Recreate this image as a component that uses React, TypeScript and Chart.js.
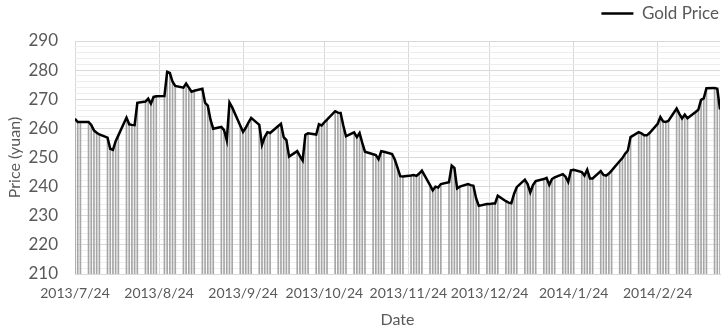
import React, { useEffect, useRef } from "react";
import { Chart, registerables } from "chart.js";

Chart.register(...registerables);

// Trading dates (weekdays) and gold price (yuan)
const dates: string[] = [
  "2013-07-24", "2013-07-25", "2013-07-26",
  "2013-07-29", "2013-07-30", "2013-07-31", "2013-08-01", "2013-08-02",
  "2013-08-05", "2013-08-06", "2013-08-07", "2013-08-08", "2013-08-09",
  "2013-08-12", "2013-08-13", "2013-08-14", "2013-08-15", "2013-08-16",
  "2013-08-19", "2013-08-20", "2013-08-21", "2013-08-22", "2013-08-23",
  "2013-08-26", "2013-08-27", "2013-08-28", "2013-08-29", "2013-08-30",
  "2013-09-02", "2013-09-03", "2013-09-04", "2013-09-05", "2013-09-06",
  "2013-09-09", "2013-09-10", "2013-09-11", "2013-09-12", "2013-09-13",
  "2013-09-16", "2013-09-17", "2013-09-18", "2013-09-19", "2013-09-20",
  "2013-09-23", "2013-09-24", "2013-09-25", "2013-09-26", "2013-09-27",
  "2013-09-30", "2013-10-01", "2013-10-02", "2013-10-03", "2013-10-04",
  "2013-10-07", "2013-10-08", "2013-10-09", "2013-10-10", "2013-10-11",
  "2013-10-14", "2013-10-15", "2013-10-16", "2013-10-17", "2013-10-18",
  "2013-10-21", "2013-10-22", "2013-10-23", "2013-10-24", "2013-10-25",
  "2013-10-28", "2013-10-29", "2013-10-30", "2013-10-31", "2013-11-01",
  "2013-11-04", "2013-11-05", "2013-11-06", "2013-11-07", "2013-11-08",
  "2013-11-11", "2013-11-12", "2013-11-13", "2013-11-14", "2013-11-15",
  "2013-11-18", "2013-11-19", "2013-11-20", "2013-11-21", "2013-11-22",
  "2013-11-25", "2013-11-26", "2013-11-27", "2013-11-28", "2013-11-29",
  "2013-12-02", "2013-12-03", "2013-12-04", "2013-12-05", "2013-12-06",
  "2013-12-09", "2013-12-10", "2013-12-11", "2013-12-12", "2013-12-13",
  "2013-12-16", "2013-12-17", "2013-12-18", "2013-12-19", "2013-12-20",
  "2013-12-23", "2013-12-24", "2013-12-25", "2013-12-26", "2013-12-27",
  "2013-12-30", "2013-12-31", "2014-01-01", "2014-01-02", "2014-01-03",
  "2014-01-06", "2014-01-07", "2014-01-08", "2014-01-09", "2014-01-10",
  "2014-01-13", "2014-01-14", "2014-01-15", "2014-01-16", "2014-01-17",
  "2014-01-20", "2014-01-21", "2014-01-22", "2014-01-23", "2014-01-24",
  "2014-01-27", "2014-01-28", "2014-01-29", "2014-01-30", "2014-01-31",
  "2014-02-03", "2014-02-04", "2014-02-05", "2014-02-06", "2014-02-07",
  "2014-02-10", "2014-02-11", "2014-02-12", "2014-02-13", "2014-02-14",
  "2014-02-17", "2014-02-18", "2014-02-19", "2014-02-20", "2014-02-21",
  "2014-02-24", "2014-02-25", "2014-02-26", "2014-02-27", "2014-02-28",
  "2014-03-03", "2014-03-04", "2014-03-05", "2014-03-06", "2014-03-07",
  "2014-03-10", "2014-03-11", "2014-03-12", "2014-03-13", "2014-03-14",
  "2014-03-17", "2014-03-18", "2014-03-19",
];

const goldPrice: number[] = [
  263.3, 262.2, 262.2,
  262.2, 261.2, 259.3, 258.5, 257.9,
  256.8, 253.0, 252.6, 255.6, 257.6,
  263.7, 261.4, 261.2, 261.1, 268.8,
  269.2, 270.2, 268.5, 270.8, 271.0,
  271.1, 279.4, 279.0, 276.0, 274.6,
  274.0, 275.4, 274.0, 272.6, 272.9,
  273.6, 268.8, 267.8, 263.0, 259.9,
  260.5, 259.4, 255.9, 268.9, 267.2,
  260.9, 258.8, 260.2, 262.0, 263.6,
  261.2, 254.4, 257.0, 258.7, 258.4,
  260.8, 261.6, 257.0, 256.0, 250.3,
  252.2, 250.5, 249.0, 257.8, 258.3,
  257.9, 261.4, 261.0, 262.1, 263.0,
  265.9, 265.4, 265.3, 261.0, 257.3,
  258.6, 257.0, 258.4, 255.0, 252.0,
  251.1, 250.8, 249.4, 252.2, 252.0,
  251.2, 249.3, 246.5, 243.6, 243.5,
  243.8, 244.0, 243.7, 244.5, 245.5,
  240.5, 238.7, 240.0, 239.7, 240.9,
  241.5, 247.2, 246.4, 239.4, 240.0,
  240.9, 240.5, 240.3, 236.0, 233.4,
  234.0, 234.0, 234.2, 234.2, 236.9,
  235.0, 234.5, 234.3, 237.5, 239.8,
  242.4, 240.9, 238.0, 240.5, 241.9,
  242.6, 243.0, 240.6, 242.6, 243.2,
  244.3, 243.4, 241.6, 245.6, 245.8,
  245.0, 243.8, 245.8, 242.8, 242.8,
  245.3, 244.0, 243.8, 244.5, 245.5,
  248.8, 249.8, 251.3, 252.4, 257.0,
  258.7, 258.3, 257.6, 257.6, 258.4,
  261.6, 263.9, 262.4, 262.2, 262.6,
  266.8, 265.0, 263.4, 264.7, 263.5,
  265.6, 266.4, 269.8, 270.3, 273.8,
  273.9, 273.6, 266.5,
];

const xTickDates: string[] = [
  "2013-07-24", "2013-08-24", "2013-09-24", "2013-10-24",
  "2013-11-24", "2013-12-24", "2014-01-24", "2014-02-24",
];

const yMin = 210;
const yMax = 290;
const yMajorStep = 10;
const yMinorStep = 2;

const FONT = "Lato, 'Open Sans', 'DejaVu Sans', sans-serif";
const TEXT = "#595959";
const START = Date.UTC(2013, 6, 24);
const DAY = 86400000;

function dayIndex(s: string): number {
  const [y, m, d] = s.split("-").map(Number);
  return Math.round((Date.UTC(y, m - 1, d) - START) / DAY);
}
function fmt(n: number): string {
  const dt = new Date(START + n * DAY);
  return `${dt.getUTCFullYear()}/${dt.getUTCMonth() + 1}/${dt.getUTCDate()}`;
}

const legendSpace = {
  id: "legendSpace",
  beforeInit(chart: any) {
    const lg = chart.legend;
    if (!lg) return;
    const fit = lg.fit;
    lg.fit = function () {
      fit.call(this);
      this.height += 9;
    };
  },
};

export default function App() {
  const ref = useRef<HTMLCanvasElement | null>(null);
  useEffect(() => {
    if (!ref.current) return;
    const points = dates.map((s, i) => ({ x: dayIndex(s), y: goldPrice[i] }));
    const xTicks = xTickDates.map(dayIndex);
    const xMax = dayIndex(dates[dates.length - 1]);
    const chart = new Chart(ref.current, {
      type: "line",
      plugins: [legendSpace],
      data: {
        datasets: [
          {
            type: "line",
            label: "Gold Price",
            data: points,
            borderColor: "#000000",
            backgroundColor: "#000000",
            borderWidth: 2.5,
            pointRadius: 0,
            tension: 0,
            order: 0,
          } as any,
          {
            type: "bar",
            label: "drop",
            data: points,
            backgroundColor: "#a6a6a6",
            borderWidth: 0,
            barThickness: 1,
            order: 1,
          } as any,
        ],
      },
      options: {
        animation: false,
        responsive: false,
        maintainAspectRatio: false,
        layout: { padding: { left: 0, right: 2, top: 4, bottom: 0 } },
        plugins: {
          legend: {
            position: "top",
            align: "end",
            labels: {
              filter: (item: any) => item.text === "Gold Price",
              usePointStyle: true,
              pointStyle: "line",
              pointStyleWidth: 32,
              boxHeight: 17,
              color: TEXT,
              font: { family: FONT, size: 17 },
              padding: 1,
            },
          },
          tooltip: { enabled: false },
        },
        scales: {
          x: {
            type: "linear",
            min: 0,
            max: xMax,
            offset: false,
            grid: { color: "#d9d9d9", drawTicks: false, offset: false },
            border: { color: "#d9d9d9" },
            afterBuildTicks: (s: any) => {
              s.ticks = xTicks.map((v) => ({ value: v }));
            },
            afterFit: (s: any) => {
              s.height = 56;
            },
            ticks: {
              autoSkip: false,
              maxRotation: 0,
              callback: (v: any) => fmt(Number(v)),
              color: TEXT,
              font: { family: FONT, size: 14 },
              padding: 11,
            },
            title: {
              display: true,
              text: "Date",
              color: TEXT,
              font: { family: FONT, size: 16 },
              padding: { top: 0, bottom: 1 },
            },
          },
          y: {
            min: yMin,
            max: yMax,
            grid: {
              color: (ctx: any) =>
                ctx.tick && ctx.tick.value % yMajorStep === 0 ? "#d9d9d9" : "#ededed",
              drawTicks: false,
            },
            border: { display: false },
            afterFit: (s: any) => {
              s.width = 75;
            },
            ticks: {
              stepSize: yMinorStep,
              autoSkip: false,
              callback: (v: any) => (Number(v) % yMajorStep === 0 ? String(v) : ""),
              color: TEXT,
              font: { family: FONT, size: 17 },
              padding: 17,
            },
            title: {
              display: true,
              text: "Price (yuan)",
              color: TEXT,
              font: { family: FONT, size: 16 },
              padding: { top: 5, bottom: 0 },
            },
          },
        },
      } as any,
    });
    return () => chart.destroy();
  }, []);
  return (
    <div style={{ position: "absolute", left: 0, top: 0, width: 722, height: 330 }}>
      <canvas ref={ref} width={722} height={330} style={{ width: 722, height: 330 }} />
    </div>
  );
}
